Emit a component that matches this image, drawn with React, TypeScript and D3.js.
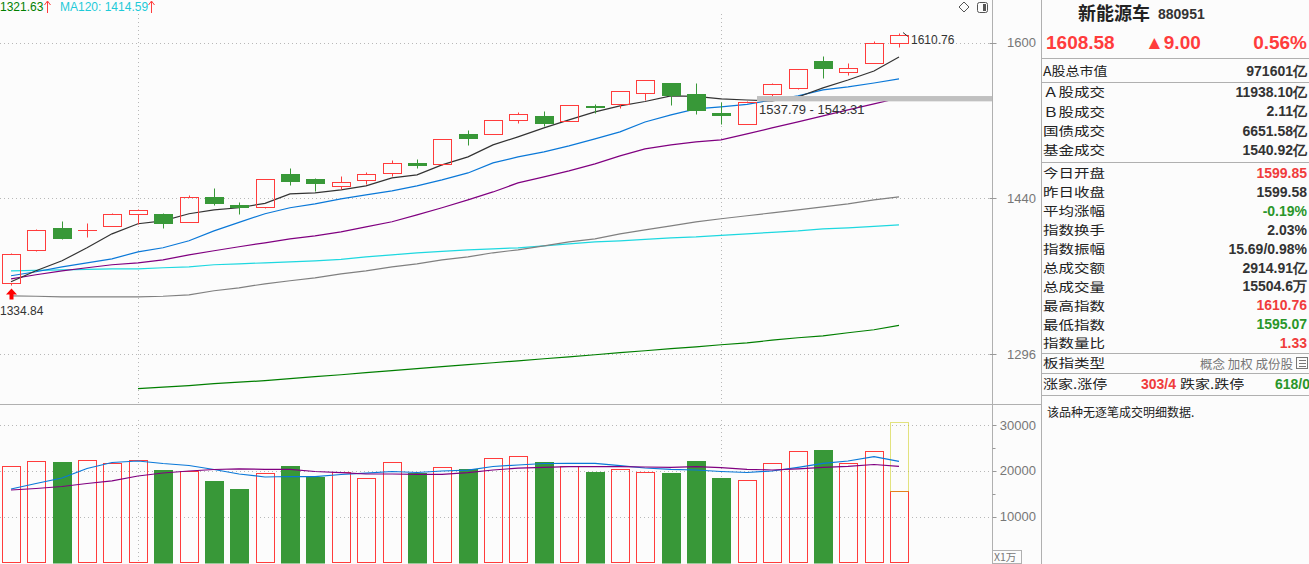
import React from 'react';
import * as d3 from 'd3';

// ---------- data ----------
const opens = [1360.2, 1390.8, 1411.7, 1409.5, 1413.6, 1425.1, 1425.1, 1417.4, 1441.6, 1433.5, 1431.6, 1463.8, 1458.9, 1452.0, 1457.9, 1464.8, 1474.8, 1473.8, 1503.9, 1504.3, 1518.6, 1522.7, 1517.6, 1533.0, 1535.1, 1546.5, 1557.0, 1545.5, 1525.8, 1514.5, 1545.5, 1551.8, 1580.3, 1568.6, 1578.2, 1599.85];
const highs = [1388.0, 1410.5, 1418.4, 1416.5, 1425.5, 1429.5, 1425.6, 1443.0, 1450.0, 1436.4, 1459.5, 1469.8, 1459.9, 1461.9, 1465.8, 1477.8, 1478.8, 1499.5, 1508.0, 1519.0, 1526.8, 1527.8, 1534.5, 1535.1, 1549.0, 1560.5, 1557.5, 1557.0, 1537.2, 1537.79, 1556.5, 1572.3, 1585.7, 1578.2, 1601.5, 1610.76];
const lows = [1358.5, 1390.2, 1401.5, 1403.1, 1413.0, 1415.5, 1411.7, 1417.0, 1433.5, 1424.9, 1431.0, 1453.0, 1447.1, 1449.1, 1454.0, 1461.9, 1469.8, 1473.2, 1492.8, 1503.8, 1515.5, 1512.4, 1517.0, 1525.8, 1530.9, 1539.3, 1534.0, 1524.8, 1514.5, 1514.0, 1543.31, 1550.7, 1562.3, 1565.5, 1578.0, 1595.07];
const closes = [1387.1, 1409.8, 1402.2, 1410.0, 1425.1, 1429.0, 1416.5, 1441.6, 1435.4, 1431.6, 1458.9, 1456.9, 1455.0, 1455.9, 1463.8, 1474.8, 1472.8, 1498.9, 1499.9, 1518.6, 1524.8, 1515.5, 1534.0, 1531.9, 1548.6, 1560.2, 1544.4, 1528.9, 1523.7, 1537.6, 1556.0, 1571.8, 1572.9, 1572.9, 1599.58, 1608.58];

const ma5 = [1361.2, 1371.3, 1380.6, 1392.8, 1406.0, 1415.6, 1418.4, 1425.2, 1429.0, 1431.0, 1435.3, 1444.5, 1445.5, 1448.4, 1452.3, 1460.2, 1463.2, 1473.1, 1481.1, 1493.2, 1501.3, 1510.4, 1518.6, 1526.8, 1533.0, 1537.6, 1543.4, 1542.9, 1540.3, 1539.2, 1538.2, 1542.3, 1551.8, 1560.2, 1569.7, 1584.6];
const ma10 = [1366.7, 1370.4, 1375.0, 1378.7, 1382.4, 1389.0, 1392.8, 1399.4, 1408.8, 1417.0, 1425.2, 1431.0, 1434.8, 1439.7, 1443.6, 1447.4, 1452.3, 1458.2, 1465.1, 1475.1, 1481.1, 1486.1, 1492.2, 1499.2, 1506.4, 1516.5, 1523.7, 1529.9, 1532.0, 1534.6, 1539.2, 1543.4, 1549.7, 1552.9, 1557.0, 1561.3];
const ma20 = [1363.9, 1367.6, 1371.3, 1374.1, 1376.9, 1378.7, 1381.5, 1386.2, 1390.0, 1393.8, 1397.5, 1401.3, 1404.1, 1407.9, 1412.7, 1417.5, 1424.2, 1431.0, 1438.7, 1446.4, 1455.3, 1461.2, 1467.1, 1474.1, 1482.1, 1489.1, 1493.2, 1496.2, 1498.2, 1504.3, 1510.4, 1516.5, 1522.7, 1528.9, 1535.1, 1541.3];
const ma60 = [1348.3, 1347.9, 1347.4, 1347.4, 1347.4, 1347.4, 1347.9, 1349.2, 1352.9, 1355.6, 1359.3, 1362.1, 1364.8, 1368.5, 1371.3, 1375.0, 1377.8, 1381.5, 1384.3, 1388.1, 1390.9, 1394.6, 1398.4, 1401.3, 1406.0, 1409.8, 1413.6, 1417.5, 1420.4, 1423.3, 1426.1, 1429.0, 1431.9, 1434.8, 1438.7, 1441.6];
const ma120 = [1371.3, 1371.7, 1372.2, 1372.7, 1373.1, 1373.1, 1374.1, 1375.0, 1376.9, 1377.8, 1378.7, 1379.6, 1380.6, 1382.0, 1384.3, 1386.2, 1388.1, 1389.5, 1390.9, 1391.8, 1392.8, 1394.6, 1396.5, 1398.4, 1399.4, 1400.8, 1402.2, 1403.1, 1404.6, 1406.0, 1407.4, 1408.8, 1410.7, 1411.7, 1413.1, 1414.59];
const ma250 = [null, null, null, null, null, 1266.2, 1267.5, 1268.8, 1270.5, 1271.8, 1273.1, 1274.8, 1276.5, 1278.2, 1280.0, 1281.7, 1283.5, 1285.2, 1286.9, 1288.6, 1290.3, 1292.1, 1293.8, 1295.6, 1297.4, 1299.1, 1300.9, 1302.6, 1304.4, 1306.1, 1308.4, 1310.6, 1312.3, 1315.0, 1317.7, 1321.63];

const volumes = [20991, 22082, 21929, 22300, 21645, 22300, 20184, 19900, 17783, 16038, 19463, 21056, 18722, 19813, 18372, 21864, 19594, 20773, 20402, 22736, 23173, 21929, 20991, 19747, 20336, 19682, 19529, 22147, 18438, 17936, 21645, 24264, 24548, 21645, 24264, 15504.6];
const volEstimateLast = 30600;
const volMa5 = [16038, 17238, 18438, 20511, 21820, 22147, 21602, 21165, 20293, 19311, 18656, 18765, 18722, 19202, 19485, 19856, 19638, 19965, 20140, 20947, 21275, 21602, 21645, 21645, 21122, 20620, 20336, 20184, 19856, 19638, 19965, 20773, 21645, 22147, 23086, 22082];
const volMa10 = [15820, 16147, 16583, 17238, 17827, 18874, 19529, 19965, 20293, 20445, 20336, 20336, 19856, 19594, 19311, 19311, 19245, 19245, 19616, 20184, 20576, 20773, 20904, 20904, 20904, 20838, 20773, 20904, 20707, 20336, 20184, 20445, 20773, 20991, 21384, 20991];

const priceTicks = [1296, 1440, 1600];
const volTicks = [10000, 20000, 30000];
const volMinorTicks = [15000, 25000];
const gapLow = 1537.79;
const gapHigh = 1543.31;
const lowestLabel = 1334.84;
const dividerIdx = [5, 28];

const panelTop = [
  { label: 'A股总市值', value: '971601亿', color: '#333' },
];
const panelGroup1 = [
  { label: 'Ａ股成交', value: '11938.10亿', color: '#333' },
  { label: 'Ｂ股成交', value: '2.11亿', color: '#333' },
  { label: '国债成交', value: '6651.58亿', color: '#333' },
  { label: '基金成交', value: '1540.92亿', color: '#333' },
];
const panelGroup2 = [
  { label: '今日开盘', value: '1599.85', color: '#f03c3c' },
  { label: '昨日收盘', value: '1599.58', color: '#333' },
  { label: '平均涨幅', value: '-0.19%', color: '#2a962a' },
  { label: '指数换手', value: '2.03%', color: '#333' },
  { label: '指数振幅', value: '15.69/0.98%', color: '#333' },
  { label: '总成交额', value: '2914.91亿', color: '#333' },
  { label: '总成交量', value: '15504.6万', color: '#333' },
  { label: '最高指数', value: '1610.76', color: '#f03c3c' },
  { label: '最低指数', value: '1595.07', color: '#2a962a' },
  { label: '指数量比', value: '1.33', color: '#f03c3c' },
];

const RED = '#ff3c3c';
const GREEN = '#389838';
const NUMF = '"Liberation Sans", Arial, sans-serif';
const CJKF = '"Noto Sans CJK SC", "Noto Sans", sans-serif';

function Label({ x, y, text, size = 12.5, sx = 1.24 }: { x: number; y: number; text: string; size?: number; sx?: number }) {
  return (
    <text transform={`translate(${x},${y}) scale(${sx},1)`} x={0} y={0} fontFamily={CJKF} fontSize={size} fill="#222" dominantBaseline="central">
      {text}
    </text>
  );
}

export default function App() {
  const W = 1309, H = 564;
  const axisX = 992.5;
  const x = d3.scaleLinear().domain([0, 35]).range([11, 899]);
  const y = d3.scaleLog().domain([1296, 1600]).range([354.3, 42.7]);
  const yv = d3.scaleLinear().domain([0, 30000]).range([562.5, 425]);
  const half = 9;
  const cx = (i: number) => Math.round(x(i));
  const py = (v: number) => Math.round(y(v)) + 0.5;

  const mkLine = (scale: (v: number) => number) =>
    d3.line<number | null>()
      .defined((d) => d != null)
      .x((_, i) => cx(i))
      .y((d) => scale(d as number));

  const priceLine = mkLine(y);
  const volLine = mkLine(yv);

  const maDefs = [
    { data: ma250, color: '#007f00' },
    { data: ma120, color: '#1ed8e0' },
    { data: ma60, color: '#808080' },
    { data: ma20, color: '#800080' },
    { data: ma10, color: '#0a78d8' },
    { data: ma5, color: '#333333' },
  ];

  const candles = closes.map((c, i) => {
    const o = opens[i];
    const up = c >= o;
    const xc = cx(i);
    const top = py(Math.max(o, c));
    const bot = py(Math.min(o, c));
    const hy = py(highs[i]);
    const ly = py(lows[i]);
    if (up) {
      return (
        <g key={i} stroke={RED} fill="none" strokeWidth={1}>
          {bot - top >= 1 ? (
            <rect x={xc - half + 0.5} y={top} width={half * 2} height={bot - top} />
          ) : (
            <line x1={xc - half} x2={xc + half + 1} y1={top} y2={top} />
          )}
          {hy < top && <line x1={xc + 0.5} x2={xc + 0.5} y1={hy} y2={top} />}
          {ly > bot && <line x1={xc + 0.5} x2={xc + 0.5} y1={bot} y2={ly} />}
        </g>
      );
    }
    return (
      <g key={i}>
        <line x1={xc + 0.5} x2={xc + 0.5} y1={hy} y2={ly} stroke={GREEN} strokeWidth={1} />
        <rect x={xc - half} y={top - 0.5} width={half * 2 + 1} height={Math.max(2, bot - top + 1)} fill={GREEN} />
      </g>
    );
  });

  const volBars = volumes.map((v, i) => {
    const up = closes[i] >= opens[i];
    const xc = cx(i);
    const t = Math.round(yv(v)) + 0.5;
    const b = 562.5;
    return up ? (
      <rect key={i} x={xc - half + 0.5} y={t} width={half * 2} height={b - t} fill="none" stroke={RED} strokeWidth={1} />
    ) : (
      <rect key={i} x={xc - half} y={t - 0.5} width={half * 2 + 1} height={b - t + 1.5} fill={GREEN} />
    );
  });

  const lastI = closes.length - 1;
  const gapX0 = cx(29) + half + 1;
  const gy1 = y(gapHigh);
  const gy2 = y(gapLow);

  const rx = 1043; // panel label x
  const rr = 1307; // panel value right edge
  const rowY1 = [92, 111.3, 130.6, 150];
  const rowY2 = panelGroup2.map((_, k) => 173 + k * 18.9);

  return (
    <svg width={W} height={H} style={{ position: 'absolute', left: 0, top: 0, background: '#fcfcfc' }}>
      <rect x={0} y={0} width={W} height={H} fill="#fcfcfc" />

      {/* header left */}
      <g fontFamily={NUMF} fontSize={12} dominantBaseline="central">
        <text x={0} y={7} fill="#008000">1321.63</text>
        <path d="M47.5,13 V1.5 M44.5,5 L47.5,1 L50.5,5" stroke={RED} fill="none" />
        <text x={60} y={7} fill="#1ecad8">MA120: 1414.59</text>
        <path d="M151.5,13 V1.5 M148.5,5 L151.5,1 L154.5,5" stroke={RED} fill="none" />
      </g>
      {/* icons */}
      <path d="M964,2 L969,7 L964,12 L959,7 Z" fill="none" stroke="#555" />
      <rect x={977.5} y={2.5} width={10} height={10} rx={2} fill="none" stroke="#555" />
      <rect x={983} y={4} width={3} height={7} fill="#555" />

      {/* grid */}
      <g stroke="#b8b8b8" strokeDasharray="1,3">
        {priceTicks.map((t) => (
          <line key={t} x1={0} x2={axisX} y1={Math.round(y(t)) + 0.5} y2={Math.round(y(t)) + 0.5} />
        ))}
        {volTicks.map((t) => (
          <line key={t} x1={0} x2={axisX} y1={Math.round(yv(t)) + 0.5} y2={Math.round(yv(t)) + 0.5} />
        ))}
        {dividerIdx.map((d) => (
          <g key={d}>
            <line x1={cx(d) + 0.5} x2={cx(d) + 0.5} y1={14} y2={404} />
            <line x1={cx(d) + 0.5} x2={cx(d) + 0.5} y1={420} y2={563} />
          </g>
        ))}
      </g>

      {/* MA lines */}
      {maDefs.map((m, k) => (
        <path key={k} d={priceLine(m.data) || ''} fill="none" stroke={m.color} strokeWidth={1.2} />
      ))}

      {candles}

      {/* gap band */}
      <rect x={gapX0} y={gy1} width={axisX - gapX0} height={gy2 - gy1} fill="#c0c0c0" />
      <text x={gapX0 + 2} y={109} fontFamily={NUMF} fontSize={13} fill="#333" dominantBaseline="central">
        {`${gapLow.toFixed(2)} - ${gapHigh.toFixed(2)}`}
      </text>

      {/* high/low labels */}
      <path d={`M${cx(lastI) + 4},${py(highs[lastI]) - 1} L${cx(lastI) + 9},${py(highs[lastI]) + 3}`} stroke="#333" fill="none" />
      <text x={cx(lastI) + 12} y={py(highs[lastI]) + 6} fontFamily={NUMF} fontSize={12} fill="#333" dominantBaseline="central">
        {highs[lastI].toFixed(2)}
      </text>
      <text x={0} y={y(lowestLabel)} fontFamily={NUMF} fontSize={12} fill="#333" dominantBaseline="central">
        {lowestLabel.toFixed(2)}
      </text>
      {/* red arrow under first candle */}
      <path d={`M${cx(0) + 0.5},${py(lows[0]) + 3} L${cx(0) + 6},${py(lows[0]) + 9} L${cx(0) + 2.5},${py(lows[0]) + 9} L${cx(0) + 2.5},${py(lows[0]) + 14} L${cx(0) - 1.5},${py(lows[0]) + 14} L${cx(0) - 1.5},${py(lows[0]) + 9} L${cx(0) - 5},${py(lows[0]) + 9} Z`} fill="#ff0000" />

      {/* volume */}
      {volBars}
      <rect x={cx(lastI) - half + 0.5} y={Math.round(yv(volEstimateLast)) + 0.5} width={half * 2} height={Math.round(yv(volumes[lastI])) - Math.round(yv(volEstimateLast))} fill="none" stroke="#c8c800" strokeDasharray="1,1" />
      <path d={volLine(volMa5) || ''} fill="none" stroke="#0a78d8" strokeWidth={1.2} />
      <path d={volLine(volMa10) || ''} fill="none" stroke="#800080" strokeWidth={1.2} />

      {/* frames */}
      <g stroke="#b0b0b0" fill="none">
        <line x1={axisX} x2={axisX} y1={0} y2={H} />
        <line x1={1041.5} x2={1041.5} y1={0} y2={H} />
        <line x1={0} x2={1041.5} y1={404.5} y2={404.5} />
      </g>

      {/* price axis */}
      <g fontFamily={NUMF} fontSize={13} fill="#777">
        {priceTicks.map((t) => (
          <g key={t}>
            <line x1={axisX - 3} x2={axisX + 4} y1={Math.round(y(t)) + 0.5} y2={Math.round(y(t)) + 0.5} stroke="#999" />
            <text x={1036} y={y(t)} textAnchor="end" dominantBaseline="central">{t}</text>
          </g>
        ))}
        {volTicks.map((t) => (
          <g key={t}>
            <line x1={axisX} x2={axisX + 4} y1={Math.round(yv(t)) + 0.5} y2={Math.round(yv(t)) + 0.5} stroke="#999" />
            <text x={1036} y={yv(t)} textAnchor="end" dominantBaseline="central">{t}</text>
          </g>
        ))}
        {volMinorTicks.map((t) => (
          <line key={t} x1={axisX} x2={axisX + 3} y1={Math.round(yv(t)) + 0.5} y2={Math.round(yv(t)) + 0.5} stroke="#999" />
        ))}
        <rect x={axisX} y={550.5} width={29} height={13} fill="#fcfcfc" stroke="#b0b0b0" />
        <text x={994} y={556.5} fontFamily={CJKF} fontSize={10.5} dominantBaseline="central">X1万</text>
      </g>

      {/* right panel */}
      <g>
        <text x={1078} y={12} fontFamily={CJKF} fontSize={18} fontWeight="bold" fill="#222" dominantBaseline="central">新能源车</text>
        <text x={1158} y={14} fontFamily={NUMF} fontSize={14} fontWeight="bold" fill="#333" dominantBaseline="central">880951</text>
        <g fontFamily={NUMF} fontSize={19} fontWeight="bold" fill={RED} dominantBaseline="central">
          <text x={1046} y={42}>1608.58</text>
          <text x={1145} y={42}>▲9.00</text>
          <text x={1307} y={42} textAnchor="end">0.56%</text>
        </g>
        <g stroke="#b0b0b0">
          {[58.5, 82.5, 162.5, 353.5, 373.5, 395.5].map((yy) => (
            <line key={yy} x1={1041.5} x2={W} y1={yy} y2={yy} />
          ))}
        </g>
        <g dominantBaseline="central">
          {panelTop.map((r) => (
            <g key={r.label}>
              <Label x={rx} y={71} text={r.label} sx={1.12} />
              <text x={rr} y={71} textAnchor="end" fontFamily={NUMF} fontSize={14} fontWeight="bold" fill={r.color}>{r.value}</text>
            </g>
          ))}
          {panelGroup1.map((r, k) => (
            <g key={r.label}>
              <Label x={rx} y={rowY1[k]} text={r.label} />
              <text x={rr} y={rowY1[k]} textAnchor="end" fontFamily={NUMF} fontSize={14} fontWeight="bold" fill={r.color}>{r.value}</text>
            </g>
          ))}
          {panelGroup2.map((r, k) => (
            <g key={r.label}>
              <Label x={rx} y={rowY2[k]} text={r.label} />
              <text x={rr} y={rowY2[k]} textAnchor="end" fontFamily={NUMF} fontSize={14} fontWeight="bold" fill={r.color}>{r.value}</text>
            </g>
          ))}
          <Label x={rx} y={363} text="板指类型" />
          <text x={1293} y={363} textAnchor="end" fontFamily={CJKF} fontSize={12.5} fill="#777">概念 加权 成份股</text>
          <rect x={1296.5} y={357.5} width={11} height={11} fill="none" stroke="#777" />
          <path d="M1299,360.5 H1306 M1299,363.5 H1306 M1299,366.5 H1306" stroke="#777" />
          <Label x={rx} y={384} text="涨家.涨停" sx={1.2} />
          <text x={1176} y={384} textAnchor="end" fontFamily={NUMF} fontSize={14} fontWeight="bold" fill="#f03c3c">303/4</text>
          <Label x={1180} y={384} text="跌家.跌停" sx={1.2} />
          <text x={1310} y={384} textAnchor="end" fontFamily={NUMF} fontSize={14} fontWeight="bold" fill="#2a962a">618/0</text>
          <text x={1047} y={411} fontFamily={CJKF} fontSize={12} fill="#222">该品种无逐笔成交明细数据.</text>
        </g>
      </g>
    </svg>
  );
}
